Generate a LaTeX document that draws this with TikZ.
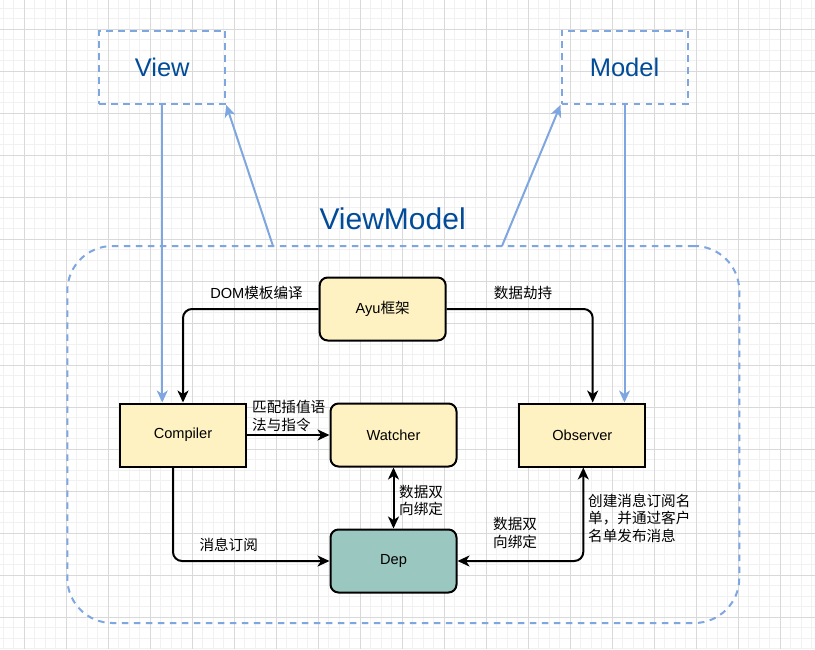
\documentclass[tikz,border=0pt]{standalone}
\usepackage{fontspec}
\setmainfont{Liberation Sans}
\newfontfamily\cjk{Noto Sans CJK SC}
\usetikzlibrary{arrows.meta}
\definecolor{yfill}{HTML}{FFF2C2}
\definecolor{depfill}{HTML}{9AC7BF}
\definecolor{vmblue}{HTML}{7EA6E0}
\definecolor{txtblue}{HTML}{004C99}
\definecolor{gridmaj}{HTML}{D9D9D9}
\definecolor{gridmin}{HTML}{F1F1F1}
\newcommand{\lab}{\fontsize{14.6}{17.6}\selectfont}
\tikzset{
  mytip/.tip={Stealth[length=12pt,width=11pt,inset=3.5pt]},
  box/.style={draw=black, line width=2pt, fill=yfill, minimum width=126pt, minimum height=63pt, inner sep=0pt, font=\lab},
  rbox/.style={box, rounded corners=8pt},
  dsh/.style={draw=vmblue, line width=2pt, dash pattern=on 6.5pt off 5.5pt},
  blk/.style={draw=black, line width=2pt, rounded corners=9pt},
  blu/.style={draw=vmblue, line width=2pt},
  lbl/.style={inner sep=0pt, font=\lab, align=left},
  cl/.style={lbl, font=\lab\cjk},
  big/.style={text=txtblue, inner sep=0pt}
}
\begin{document}
\begin{tikzpicture}[x=1pt,y=-1pt]
\useasboundingbox (0,0) rectangle (815,649);
\fill[white] (0,0) rectangle (815,649);
% grid
\foreach \i in {0,...,78} {\draw[gridmin, line width=0.8pt] ({3.3+10.5*\i},0) -- ++(0,649);}
\foreach \i in {0,...,61} {\draw[gridmin, line width=0.8pt] (0,{8.3+10.5*\i}) -- ++(815,0);}
\foreach \i in {0,...,19} {\draw[gridmaj, line width=1pt] ({24.3+42*\i},0) -- ++(0,649);}
\foreach \i in {0,...,14} {\draw[gridmaj, line width=1pt] (0,{29.3+42*\i}) -- ++(815,0);}

% outer frames
\node[dsh, rounded corners=45pt, minimum width=672pt, minimum height=377pt, inner sep=0pt] (vm) at (403.3,434.5) {};
\node[big, font=\fontsize{30}{36}\selectfont] (vmlabel) at (392.6,218.3) {ViewModel};
\node[dsh, minimum width=126pt, minimum height=73.3pt, inner sep=0pt, big, font=\fontsize{25.5}{30}\selectfont] (view) at (162.25,67.3) {View};
\node[dsh, minimum width=126pt, minimum height=73.3pt, inner sep=0pt, big, font=\fontsize{25.5}{30}\selectfont] (model) at (624.5,67.3) {Model};

% boxes
\node[rbox] (ayu) at (382.7,309) {Ayu{\cjk 框架}};
\node[box] (compiler) at (183,435) {Compiler};
\node[rbox] (watcher) at (393.5,435) {Watcher};
\node[box] (observer) at (582.3,435) {Observer};
\node[rbox, fill=depfill] (dep) at (393.5,561) {Dep};

% blue connectors
\coordinate (vmA) at (273,246);
\coordinate (vmB) at (502,246);
\draw[blu,-mytip] (view.south) -- (view.south |- compiler.north);
\draw[blu,-mytip] (model.south) -- (model.south |- observer.north);
\draw[blu,-mytip] (vmA) -- (view.south east);
\draw[blu,-mytip] (vmB) -- (model.south west);

% black connectors
\draw[blk,-mytip] (ayu.west) -| (compiler.north);
\draw[blk,-mytip] (ayu.east) -| ([xshift=10.4pt]observer.north);
\draw[blk,-mytip] (compiler.east) -- (watcher.west);
\draw[blk,mytip-mytip] (watcher.south) -- (dep.north);
\draw[blk,-mytip] ([xshift=-10pt]compiler.south) |- (dep.west);
\draw[blk,mytip-mytip] ([xshift=1pt]observer.south) |- (dep.east);

% labels
\node[lbl] (l1) at (256.5,292.7) {DOM{\cjk 模板编译}};
\node[cl] (l2) at (523,292.7) {数据劫持};
\node[cl, anchor=west] (l3) at (252,416) {匹配插值语\\法与指令};
\node[cl, anchor=west] (l4) at (399,500.5) {数据双\\向绑定};
\node[cl] (l5) at (228.7,545) {消息订阅};
\node[cl, anchor=west] (l6) at (493,533) {数据双\\向绑定};
\node[cl, anchor=west] (l7) at (588,518.3) {创建消息订阅名\\单，并通过客户\\名单发布消息};
\end{tikzpicture}
\end{document}
